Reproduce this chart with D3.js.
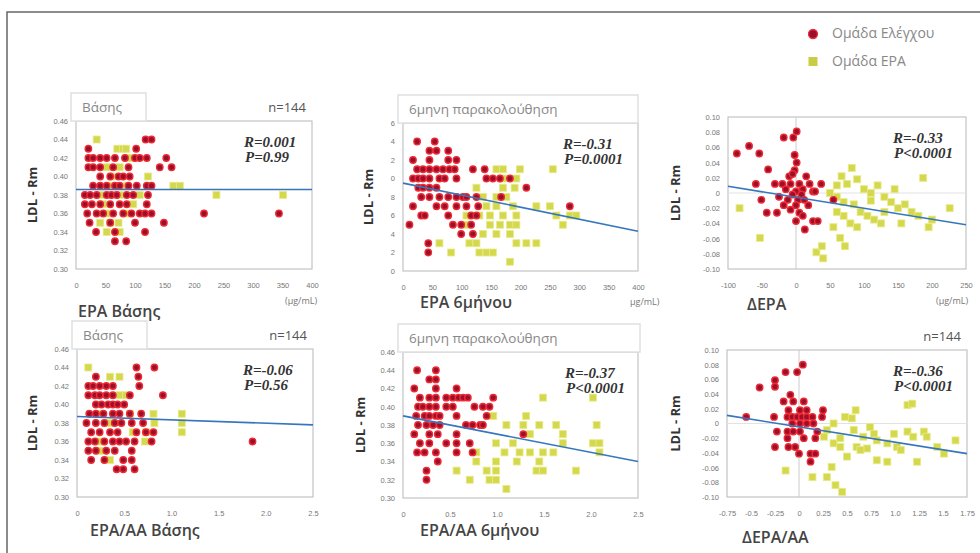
<!DOCTYPE html>
<html lang="el">
<head>
  <meta charset="UTF-8">
  <title>LDL - Rm vs EPA</title>
  <script src="https://d3js.org/d3.v7.min.js"></script>
  <style>
    body { margin: 0; background: #fff; }
    svg { font-family: 'Open Sans', 'Liberation Sans', sans-serif; display: block; }
    .tick text { fill: #777; font-size: 7.5px; }
    .xlab { font-weight: 600; fill: #444; font-size: 16px; }
    .ylab { font-weight: bold; fill: #333; font-size: 13px; }
    .stat { font-family: 'Liberation Serif', 'DejaVu Serif', serif; font-weight: bold; font-style: italic; font-size: 15px; fill: #333; }
    .ttl { fill: #888; font-size: 13.5px; }
    .nn { fill: #555; font-size: 13px; }
    .leg { fill: #888; font-size: 14px; }
  </style>
</head>
<body>
<svg id="chart"></svg>
<script>
// ---- data: rows are [y, x1, x2, ...] ----
const baseEpaControl = [
  [0.44, 118, 128], [0.43, 21, 102], [0.42, 21, 29, 41, 52, 66, 83, 100, 108, 120, 153],
  [0.41, 21, 29, 41, 63, 89, 142, 162], [0.40, 41, 58, 72, 80, 91],
  [0.39, 29, 41, 52, 66, 74, 89, 103, 120, 128], [0.38, 15, 24, 35, 52, 60, 69, 86, 97, 122],
  [0.37, 15, 27, 41, 58, 74, 86, 120], [0.36, 19, 35, 46, 63, 80, 94, 108, 117, 128, 217, 344],
  [0.35, 23, 58, 100, 149], [0.34, 34, 66, 117], [0.33, 66, 85]
];
const baseEpaTreated = [
  [0.44, 35], [0.43, 70, 80, 85], [0.42, 91], [0.41, 52, 74], [0.40, 60, 122],
  [0.39, 58, 86, 165, 176], [0.38, 41, 74, 108, 238, 351], [0.37, 46, 97],
  [0.36, 52, 86], [0.35, 41, 58, 72], [0.34, 52, 74]
];
const sixEpaControl = [
  [0.44, 24, 54], [0.43, 45, 57, 77], [0.42, 17, 45, 77, 91],
  [0.41, 24, 34, 45, 57, 68, 79, 88, 119, 139], [0.40, 17, 26, 34, 45, 62, 71, 91, 142, 153, 165, 182],
  [0.39, 26, 34, 45, 57, 210], [0.38, 31, 45, 62, 77, 91, 102, 108, 125, 167],
  [0.37, 17, 57, 71, 91, 108, 128, 284], [0.36, 31, 37, 77, 116, 125],
  [0.35, 11, 85, 99, 116], [0.34, 99, 119], [0.33, 43], [0.32, 43]
];
const sixEpaTreated = [
  [0.41, 159, 170, 199, 255], [0.40, 170, 193], [0.39, 125, 170, 190], [0.38, 136, 159, 176],
  [0.37, 142, 159, 187, 227, 250], [0.36, 108, 130, 148, 170, 193, 261, 284, 295],
  [0.35, 108, 148, 165, 182, 193, 272], [0.34, 136, 159, 182],
  [0.33, 62, 113, 125, 193, 210, 227], [0.32, 82, 130, 142, 153], [0.31, 182]
];
const baseRatioControl = [
  [0.44, 0.63, 0.82], [0.43, 0.20, 0.65], [0.42, 0.12, 0.17, 0.24, 0.31, 0.38, 0.66],
  [0.41, 0.12, 0.19, 0.24, 0.31, 0.38, 0.56, 0.91], [0.40, 0.20, 0.26, 0.33, 0.38, 0.43, 0.50],
  [0.39, 0.13, 0.20, 0.28, 0.38, 0.45, 0.56, 0.68], [0.38, 0.10, 0.20, 0.29, 0.40, 0.47, 0.58, 0.70],
  [0.37, 0.15, 0.24, 0.35, 0.43, 0.63, 0.73, 0.81], [0.36, 0.12, 0.19, 0.29, 0.38, 0.45, 0.52, 0.61, 0.79, 1.86],
  [0.35, 0.12, 0.20, 0.31, 0.40, 0.58], [0.34, 0.15, 0.29, 0.49, 0.58], [0.33, 0.42, 0.49, 0.61]
];
const baseRatioTreated = [
  [0.44, 0.12], [0.43, 0.35, 0.45], [0.41, 0.45, 0.52], [0.39, 0.24, 0.56, 0.81, 1.11],
  [0.38, 0.35, 0.82, 1.11], [0.37, 0.59, 0.73, 1.11], [0.36, 0.24, 0.72], [0.35, 0.24], [0.34, 0.35]
];
const sixRatioControl = [
  [0.44, 0.15, 0.35], [0.43, 0.28, 0.35], [0.42, 0.12, 0.35, 0.57],
  [0.41, 0.18, 0.28, 0.35, 0.46, 0.53, 0.59, 0.64, 0.69, 0.96],
  [0.40, 0.16, 0.21, 0.28, 0.35, 0.46, 0.53, 0.76, 0.85, 0.92],
  [0.39, 0.14, 0.23, 0.28, 0.35, 0.39, 0.57, 0.89], [0.38, 0.16, 0.25, 0.32, 0.39, 0.67, 0.74, 0.82, 0.85],
  [0.37, 0.12, 0.28, 0.37, 0.57, 1.28], [0.36, 0.18, 0.28, 0.46, 0.57, 0.71],
  [0.35, 0.15, 0.23, 0.35, 0.57, 0.74], [0.34, 0.37], [0.33, 0.25], [0.32, 0.25]
];
const sixRatioTreated = [
  [0.41, 1.49, 2.02], [0.39, 0.96, 1.31], [0.38, 1.10, 1.28, 1.45, 1.63, 2.06], [0.37, 1.35, 1.70],
  [0.36, 0.99, 1.17, 1.70, 2.02, 2.09], [0.35, 0.78, 1.08, 1.24, 1.35, 1.49, 1.60, 2.09],
  [0.34, 0.78, 0.99, 1.21, 1.45], [0.33, 0.57, 0.89, 0.99, 1.42, 1.49, 1.84],
  [0.32, 0.71, 0.92, 0.99], [0.31, 1.10]
];
// delta panels: [x, y] pairs
const deltaEpaControl = [
  [-87, 0.052], [-69, 0.062], [-54, 0.052], [-18, 0.073], [-4, 0.073], [1, 0.081], [-41, 0.031],
  [-59, 0.012], [-51, -0.009], [-43, -0.026], [-28, -0.026], [-31, 0.012], [1, 0.040], [-2, 0.030],
  [15, 0.022], [-10, 0.022], [20, 0.012], [37, 0.012], [-20, 0.012], [-8, 0.012], [5, 0.012],
  [10, 0.005], [-15, 0.005], [0, 0.002], [-5, -0.002], [8, -0.002], [25, 0.002], [-25, -0.005],
  [-12, -0.009], [3, -0.009], [12, -0.009], [-18, -0.016], [0, -0.016], [18, -0.016], [-8, -0.022],
  [5, -0.026], [10, -0.030], [0, -0.037], [25, -0.037], [32, -0.037], [13, -0.048], [55, -0.009],
  [-2, 0.050], [28, 0.002], [-5, 0.025]
];
const deltaEpaTreated = [
  [-83, -0.020], [-53, -0.059], [67, 0.022], [82, 0.033], [75, 0.012], [90, 0.018], [100, 0.005],
  [110, 0.000], [60, -0.005], [70, -0.012], [85, -0.015], [95, -0.025], [105, -0.030], [115, -0.035],
  [125, -0.040], [70, -0.030], [80, -0.040], [90, -0.045], [60, -0.025], [130, -0.005], [140, -0.012],
  [150, -0.020], [160, -0.015], [170, -0.025], [180, -0.030], [155, -0.040], [187, 0.020], [226, -0.020],
  [200, -0.035], [30, -0.078], [40, -0.086], [38, -0.070], [65, -0.059], [72, -0.070], [55, -0.045],
  [110, -0.010], [130, -0.025], [120, 0.010], [145, 0.005], [195, -0.045], [50, 0.000], [60, 0.010]
];
const deltaRatioControl = [
  [-0.41, 0.049], [-0.55, 0.009], [-0.25, 0.059], [-0.25, 0.050], [-0.14, 0.070], [-0.02, 0.070],
  [0.04, 0.080], [-0.09, 0.039], [-0.16, 0.030], [-0.06, 0.030], [0.05, 0.030], [-0.11, 0.018],
  [0.01, 0.018], [0.08, 0.018], [0.25, 0.018], [-0.26, 0.009], [-0.12, 0.009], [-0.07, 0.009],
  [-0.02, 0.009], [0.03, 0.009], [0.08, 0.009], [0.14, 0.009], [0.24, 0.009], [-0.07, 0.000],
  [0.01, 0.000], [0.08, 0.000], [0.15, 0.000], [-0.23, -0.011], [-0.12, -0.011], [-0.06, -0.011],
  [0.01, -0.011], [0.19, -0.011], [-0.12, -0.020], [0.05, -0.020], [0.17, -0.020], [-0.25, -0.032],
  [-0.11, -0.032], [-0.04, -0.032], [0.00, -0.041], [0.12, -0.041], [0.17, -0.041], [0.12, -0.052]
];
const deltaRatioTreated = [
  [-0.14, -0.064], [0.14, -0.073], [0.29, -0.073], [0.38, -0.084], [0.45, -0.093], [0.34, -0.059],
  [0.36, -0.027], [0.43, -0.020], [0.48, 0.009], [0.55, 0.007], [0.59, 0.018], [0.74, -0.005],
  [0.78, -0.014], [0.81, -0.023], [0.99, -0.014], [1.02, -0.032], [1.13, -0.011], [1.19, -0.018],
  [1.13, 0.025], [1.30, -0.011], [1.33, -0.018], [1.51, -0.041], [1.63, -0.023], [1.23, -0.052],
  [0.92, -0.052], [0.81, -0.050], [0.71, -0.034], [0.60, -0.032], [0.43, -0.032], [0.50, -0.045],
  [0.64, -0.036], [0.36, 0.000], [0.29, -0.009], [0.26, -0.018], [0.57, -0.009], [1.06, -0.036],
  [1.44, -0.032], [0.92, -0.027], [0.67, -0.018], [1.18, 0.027]
];
// regression line end points
const fitBaseEpa = [[0, 0.386], [400, 0.386]];
const fitSixEpa = [[0, 0.395], [400, 0.343]];
const fitDeltaEpa = [[-100, 0.0088], [250, -0.0417]];
const fitBaseRatio = [[0, 0.387], [2.5, 0.378]];
const fitSixRatio = [[0, 0.39], [2.5, 0.34]];
const fitDeltaRatio = [[-0.75, 0.011], [1.75, -0.041]];

// tick labels
const ldlTicks = [0.46, 0.44, 0.42, 0.40, 0.38, 0.36, 0.34, 0.32, 0.30];
const ldlLabels = ["0.46", "0.44", "0.42", "0.40", "0.38", "0.36", "0.34", "0.32", "0.30"];
const ldlLabelsCut = ["6", "4", "2", "0", "8", "6", "4", "2", "0"];
const deltaTicks = [0.10, 0.08, 0.06, 0.04, 0.02, 0, -0.02, -0.04, -0.06, -0.08, -0.10];
const deltaLabels = ["0.10", "0.08", "0.06", "0.04", "0.02", "0", "-0.02", "-0.04", "-0.06", "-0.08", "-0.10"];
const epaTicks = [0, 50, 100, 150, 200, 250, 300, 350, 400];
const dEpaTicks = [-100, -50, 0, 50, 100, 150, 200, 250];
const ratioTicks = [0, 0.5, 1.0, 1.5, 2.0, 2.5];
const ratioLabels = ["0", "0.5", "1.0", "1.5", "2.0", "2.5"];
const dRatioTicks = [-0.75, -0.5, -0.25, 0, 0.25, 0.5, 0.75, 1.0, 1.25, 1.5, 1.75];
const dRatioLabels = ["-0.75", "-0.5", "-0.25", "0", "0.25", "0.5", "0.75", "1.0", "1.25", "1.5", "1.75"];

const legendNames = ["Ομάδα Ελέγχου", "Ομάδα EPA"];

// expand [y, x...] rows into points
function rows(r) {
  const out = [];
  r.forEach(row => row.slice(1).forEach(v => out.push([v, row[0]])));
  return out;
}

const svg = d3.select("#chart").attr("width", 980).attr("height", 553);

// outer frame
svg.append("path").attr("d", "M7,553 L7,12 L985,12").attr("fill", "none")
  .attr("stroke", "#666").attr("stroke-width", 1.5);

// legend
svg.append("circle").attr("cx", 813).attr("cy", 34).attr("r", 4.5)
  .attr("fill", "#9c0f2a").attr("stroke", "#e8303a").attr("stroke-width", 1.3);
svg.append("rect").attr("x", 808.5).attr("y", 57).attr("width", 9).attr("height", 9).attr("fill", "#c9cc45");
svg.append("text").attr("class", "leg").attr("x", 832).attr("y", 38).text(legendNames[0]);
svg.append("text").attr("class", "leg").attr("x", 832).attr("y", 66).text(legendNames[1]);

const panels = [
  { l: 76, r: 312, t: 121, b: 269, xd: [0, 400], yd: [0.30, 0.46], xt: epaTicks, xl: null, yt: ldlTicks, yl: ldlLabels,
    red: rows(baseEpaControl), yel: rows(baseEpaTreated), fit: fitBaseEpa,
    title: "Βάσης", tw: 75, n: true, R: "R=0.001", P: "P=0.99", xlab: "EPA Βάσης", xlx: 78, xly: 317,
    unit: "(μg/mL)", ux: 285, uy: 304, ylx: 32, sx: 244 },
  { l: 403, r: 638, t: 123, b: 271, xd: [0, 400], yd: [0.30, 0.46], xt: epaTicks, xl: null, yt: ldlTicks, yl: ldlLabelsCut,
    red: rows(sixEpaControl), yel: rows(sixEpaTreated), fit: fitSixEpa,
    title: "6μηνη παρακολούθηση", tw: 240, n: false, R: "R=-0.31", P: "P=0.0001", xlab: "EPA 6μήνου", xlx: 420, xly: 308,
    unit: "μg/mL)", ux: 630, uy: 305, ylx: 368, sx: 563 },
  { l: 728, r: 966, t: 117, b: 269, xd: [-100, 250], yd: [-0.10, 0.10], xt: dEpaTicks, xl: null, yt: deltaTicks, yl: deltaLabels,
    red: deltaEpaControl, yel: deltaEpaTreated, fit: fitDeltaEpa, zero: true,
    title: null, n: false, R: "R=-0.33", P: "P<0.0001", xlab: "ΔEPA", xlx: 747, xly: 310,
    unit: "(μg/mL)", ux: 936, uy: 304, ylx: 675, sx: 893 },
  { l: 77, r: 313, t: 349, b: 497, xd: [0, 2.5], yd: [0.30, 0.46], xt: ratioTicks, xl: ratioLabels, yt: ldlTicks, yl: ldlLabels,
    red: rows(baseRatioControl), yel: rows(baseRatioTreated), fit: fitBaseRatio,
    title: "Βάσης", tw: 75, n: true, R: "R=-0.06", P: "P=0.56", xlab: "EPA/AA Βάσης", xlx: 90, xly: 536,
    unit: null, ylx: 32, sx: 243 },
  { l: 403, r: 638, t: 352, b: 498, xd: [0, 2.5], yd: [0.30, 0.46], xt: ratioTicks, xl: ratioLabels, yt: ldlTicks, yl: ldlLabels,
    red: rows(sixRatioControl), yel: rows(sixRatioTreated), fit: fitSixRatio,
    title: "6μηνη παρακολούθηση", tw: 242, n: false, R: "R=-0.37", P: "P<0.0001", xlab: "EPA/AA 6μήνου", xlx: 420, xly: 536,
    unit: null, ylx: 360, sx: 565 },
  { l: 727, r: 967, t: 350, b: 497, xd: [-0.75, 1.75], yd: [-0.10, 0.10], xt: dRatioTicks, xl: dRatioLabels, yt: deltaTicks, yl: deltaLabels,
    red: deltaRatioControl, yel: deltaRatioTreated, fit: fitDeltaRatio, zero: true,
    title: null, n: true, R: "R=-0.36", P: "P<0.0001", xlab: "ΔEPA/AA", xlx: 742, xly: 543,
    unit: null, ylx: 675, sx: 893 }
];

panels.forEach(p => {
  const x = d3.scaleLinear().domain(p.xd).range([p.l, p.r]);
  const y = d3.scaleLinear().domain(p.yd).range([p.b, p.t]);
  const g = svg.append("g");

  // plot frame
  g.append("rect").attr("x", p.l).attr("y", p.t).attr("width", p.r - p.l).attr("height", p.b - p.t)
    .attr("fill", "#fff").attr("stroke", "#c4c4c4").attr("stroke-width", 1.2);

  if (p.zero) {
    g.append("line").attr("x1", x(0)).attr("x2", x(0)).attr("y1", p.t).attr("y2", p.b)
      .attr("stroke", "#ccc").attr("stroke-width", 1);
    g.append("line").attr("x1", p.l).attr("x2", p.r).attr("y1", y(0)).attr("y2", y(0))
      .attr("stroke", "#e2e2e2").attr("stroke-width", 1);
  }

  // axes
  const ya = g.append("g").attr("transform", "translate(" + p.l + ",0)")
    .call(d3.axisLeft(y).tickValues(p.yt).tickSize(0).tickPadding(8)
      .tickFormat((d, i) => p.yl[i]));
  ya.select(".domain").remove();
  const xa = g.append("g").attr("transform", "translate(0," + p.b + ")")
    .call(d3.axisBottom(x).tickValues(p.xt).tickSize(0).tickPadding(14)
      .tickFormat((d, i) => p.xl ? p.xl[i] : d));
  xa.select(".domain").remove();

  // title box
  if (p.title) {
    g.append("rect").attr("x", p.l - 5).attr("y", p.t - 28).attr("width", p.tw).attr("height", 28)
      .attr("fill", "#fff").attr("stroke", "#e0e0e0").attr("stroke-width", 1.5);
    g.append("text").attr("class", "ttl").attr("x", p.l + 6).attr("y", p.t - 9).text(p.title);
  }
  if (p.n) {
    g.append("text").attr("class", "nn").attr("x", p.r - 6).attr("y", p.t - 9)
      .attr("text-anchor", "end").text("n=144");
  }

  // points
  g.append("g").selectAll("rect").data(p.yel).enter().append("rect")
    .attr("x", d => x(d[0]) - 3.5).attr("y", d => y(d[1]) - 3.5)
    .attr("width", 7).attr("height", 7)
    .attr("fill", "#d4d84c").attr("stroke", "#e8ea8a").attr("stroke-width", 0.8);
  g.append("g").selectAll("circle").data(p.red).enter().append("circle")
    .attr("cx", d => x(d[0])).attr("cy", d => y(d[1])).attr("r", 3.2)
    .attr("fill", "#9c0f2a").attr("stroke", "#ee2a34").attr("stroke-width", 1.4);

  // regression line
  g.append("path").datum(p.fit)
    .attr("d", d3.line().x(d => x(d[0])).y(d => y(d[1])))
    .attr("fill", "none").attr("stroke", "#3676bc").attr("stroke-width", 1.6);

  // stats
  g.append("text").attr("class", "stat").attr("x", p.sx).attr("y", p.t + 26).text(p.R);
  g.append("text").attr("class", "stat").attr("x", p.sx + 1).attr("y", p.t + 41).text(p.P);

  // axis titles
  g.append("text").attr("class", "xlab").attr("x", p.xlx).attr("y", p.xly).text(p.xlab);
  g.append("text").attr("class", "ylab")
    .attr("transform", "translate(" + p.ylx + "," + ((p.t + p.b) / 2) + ") rotate(-90)")
    .attr("text-anchor", "middle").attr("dy", "0.35em").text("LDL - Rm");
  if (p.unit) {
    g.append("text").attr("x", p.ux).attr("y", p.uy)
      .style("font-size", "9px").style("fill", "#777").text(p.unit);
  }
});
</script>
</body>
</html>
